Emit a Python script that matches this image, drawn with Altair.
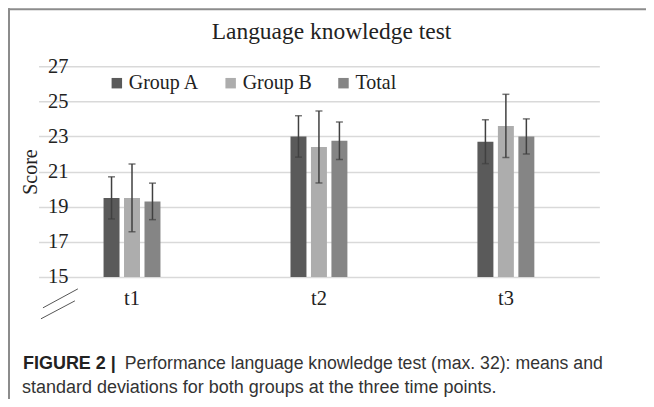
import altair as alt
import pandas as pd

times = ["t1", "t2", "t3"]
groups = ["Group A", "Group B", "Total"]
mean_a = [19.5, 23.0, 22.7]
mean_b = [19.5, 22.4, 23.6]
mean_t = [19.3, 22.75, 23.0]
sd_a = [1.2, 1.18, 1.25]
sd_b = [1.93, 2.05, 1.8]
sd_t = [1.04, 1.07, 1.0]
colors = ["#5a5a5a", "#adadad", "#858585"]
y_ticks = [15, 17, 19, 21, 23, 25, 27]
y_min, y_max = 15, 27

rows = []
for g, means, sds in zip(groups, [mean_a, mean_b, mean_t], [sd_a, sd_b, sd_t]):
    for t, m, s in zip(times, means, sds):
        rows.append({"time": t, "group": g, "mean": m, "sd": s})
df = pd.DataFrame(rows)

serif = "Liberation Serif"
sans = "Liberation Sans"
ink = "#222222"
err = "#404040"

xscale = alt.Scale(domain=times, range=[-46.4, 515.3], paddingInner=0, paddingOuter=0)
xaxis = alt.Axis(title=None, labelAngle=0, domain=False, ticks=False, grid=False,
                 labelFont=serif, labelFontSize=20.5, labelColor=ink, labelPadding=12)
x = alt.X("time:N", scale=xscale, axis=xaxis)
xoff = alt.XOffset("group:N", scale=alt.Scale(domain=groups, range=[65.1, 122.1],
                                              paddingInner=0.22, paddingOuter=0))
yscale = alt.Scale(domain=[y_min, y_max], nice=False, zero=False)
yaxis = alt.Axis(values=y_ticks, title="Score", grid=True, gridColor="#d9d9d9", gridWidth=1.5,
                 domain=False, ticks=False, labelOverlap=False, labelFont=serif,
                 labelFontSize=20.5, labelColor=ink,
                 labelPadding=17, titleFont=serif, titleFontSize=20, titleFontWeight="normal",
                 titleColor=ink, titleX=-54, titleY=105.5, titleAlign="center",
                 titleBaseline="middle")

base = alt.Chart(df).transform_calculate(
    lo="datum.mean - datum.sd", hi="datum.mean + datum.sd"
)

bars = base.mark_bar().encode(
    x=x,
    xOffset=xoff,
    y=alt.Y("mean:Q", scale=yscale, axis=yaxis),
    y2=alt.datum(y_min),
    color=alt.Color(
        "group:N",
        scale=alt.Scale(domain=groups, range=colors),
        legend=alt.Legend(title=None, orient="none", legendX=22, legendY=7, direction="horizontal",
                          symbolType="square", symbolSize=110, symbolStrokeWidth=0,
                          labelFont=serif, labelFontSize=20, labelColor=ink,
                          columnPadding=21, labelOffset=2),
    ),
)

whisk = base.mark_rule(color=err, strokeWidth=1.5).encode(
    x=x, xOffset=xoff, y=alt.Y("lo:Q", scale=yscale, axis=yaxis), y2="hi:Q"
)
cap_hi = base.mark_tick(orient="horizontal", size=7, thickness=1.5, color=err).encode(
    x=x, xOffset=xoff, y=alt.Y("hi:Q", scale=yscale, axis=yaxis)
)
cap_lo = base.mark_tick(orient="horizontal", size=7, thickness=1.5, color=err).encode(
    x=x, xOffset=xoff, y=alt.Y("lo:Q", scale=yscale, axis=yaxis)
)

one = alt.Data(values=[{"k": 1}])
frame_top = alt.Chart(one).mark_rule(color="#8c8c8c", strokeWidth=2).encode(
    x=alt.value(-77), x2=alt.value(570), y=alt.value(-57)
)
frame_left = alt.Chart(one).mark_rule(color="#8c8c8c", strokeWidth=2).encode(
    x=alt.value(-76), y=alt.value(-58), y2=alt.value(340)
)
brk1 = alt.Chart(one).mark_rule(color="#555555", strokeWidth=1).encode(
    x=alt.value(-7), y=alt.value(223), x2=alt.value(-42), y2=alt.value(242)
)
brk2 = alt.Chart(one).mark_rule(color="#555555", strokeWidth=1).encode(
    x=alt.value(-10), y=alt.value(235), x2=alt.value(-44), y2=alt.value(253)
)
title = alt.Chart(one).mark_text(align="center", baseline="alphabetic", font=serif, fontSize=23.5,
                                 color=ink).encode(
    x=alt.value(247), y=alt.value(-27.5), text=alt.value("Language knowledge test")
)
cap_bold = alt.Chart(one).mark_text(align="left", baseline="middle", font=sans, fontSize=18,
                                    fontWeight="bold", color=ink).encode(
    x=alt.value(-62), y=alt.value(298), text=alt.value("FIGURE 2 |")
)
cap_1 = alt.Chart(one).mark_text(align="left", baseline="middle", font=sans, fontSize=17.7,
                                 color="#333333").encode(
    x=alt.value(40), y=alt.value(298),
    text=alt.value("Performance language knowledge test (max. 32): means and"),
)
cap_2 = alt.Chart(one).mark_text(align="left", baseline="middle", font=sans, fontSize=18,
                                 color="#333333").encode(
    x=alt.value(-63), y=alt.value(322),
    text=alt.value("standard deviations for both groups at the three time points."),
)

chart = alt.layer(
    bars, whisk, cap_hi, cap_lo, frame_top, frame_left, brk1, brk2, title, cap_bold, cap_1, cap_2
).properties(
    width=562,
    height=211,
    autosize=alt.AutoSizeParams(type="none"),
    padding={"left": 77, "top": 58, "right": 0, "bottom": 122},
    background="white",
).configure_view(stroke=None).configure_axisY(labelOverlap=False)

chart.save("out.html", embed_options={"renderer": "svg", "actions": False})
